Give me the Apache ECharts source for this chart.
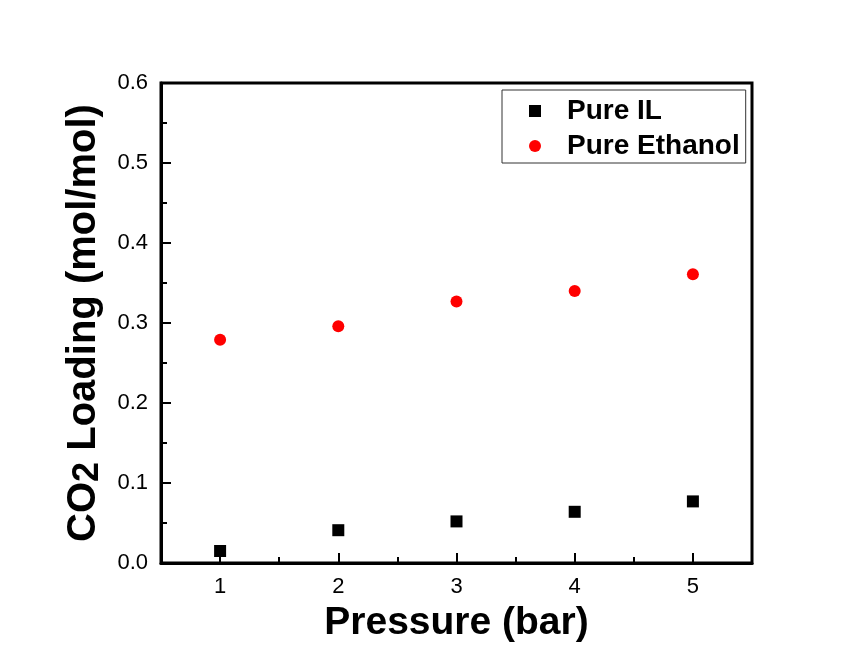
<!DOCTYPE html>
<html>
<head>
<meta charset="utf-8">
<script src="https://cdn.jsdelivr.net/npm/echarts@6/dist/echarts.min.js"></script>
<style>
  html, body { margin: 0; padding: 0; background: #fff; }
  #main { width: 856px; height: 671px; }
</style>
</head>
<body>
<div id="main"></div>
<script>
// data
var pressure = [1, 2, 3, 4, 5];
var pureIL = [0.015, 0.041, 0.052, 0.064, 0.077];
var pureEthanol = [0.279, 0.296, 0.327, 0.340, 0.361];
var xMajorTicks = [1, 2, 3, 4, 5];
var xMinorTicks = [1.5, 2.5, 3.5, 4.5];
var yMajorTicks = [0, 0.1, 0.2, 0.3, 0.4, 0.5, 0.6];
var yMinorTicks = [0.05, 0.15, 0.25, 0.35, 0.45, 0.55];

var font = 'Arial, "Liberation Sans", sans-serif';

function pairs(xs, ys) {
    var out = [];
    for (var i = 0; i < xs.length; i++) {
        out.push([xs[i], ys[i]]);
    }
    return out;
}

// axis that only draws inward ticks at given values
function tickAxis(lo, hi, pos, values, len) {
    return {
        type: 'value', min: lo, max: hi, position: pos,
        axisLine: { show: false },
        axisTick: { show: true, inside: true, length: len, lineStyle: { color: '#000', width: 2 }, customValues: values },
        axisLabel: { show: false },
        splitLine: { show: false }
    };
}

// axis whose minor ticks land on the wanted major positions
function minorTickAxis(lo, hi, pos, step, split, len) {
    return {
        type: 'value', min: lo, max: hi, interval: step, position: pos,
        axisLine: { show: false },
        axisTick: { show: false, inside: true },
        minorTick: { show: true, splitNumber: split, length: len, lineStyle: { color: '#000', width: 2 } },
        axisLabel: { show: false },
        splitLine: { show: false }
    };
}

var chart = echarts.init(document.getElementById('main'));

var option = {
    backgroundColor: '#fff',
    animation: false,
    grid: {
        left: 161, top: 83, right: 104, bottom: 108,
        show: true, borderColor: '#000', borderWidth: 3
    },
    legend: {
        orient: 'vertical',
        left: 502, top: 90,
        padding: [6, 6, 2, 27],
        itemGap: 5,
        itemWidth: 12, itemHeight: 12,
        borderColor: '#333', borderWidth: 1,
        textStyle: {
            fontFamily: font, fontWeight: 'bold', fontSize: 28,
            color: '#000', lineHeight: 30, padding: [0, 0, 0, 21]
        },
        data: ['Pure IL', 'Pure Ethanol']
    },
    xAxis: [{
        type: 'value', min: 0.5, max: 5.5,
        name: 'Pressure (bar)',
        nameLocation: 'middle', nameGap: 41,
        nameTextStyle: { fontFamily: font, fontWeight: 'bold', fontSize: 39, color: '#000' },
        axisLine: { lineStyle: { color: '#000', width: 3 } },
        axisTick: { show: false },
        axisLabel: { margin: 13, fontFamily: font, fontSize: 22, color: '#000', customValues: xMajorTicks },
        splitLine: { show: false }
    },
        tickAxis(0.5, 5.5, 'bottom', xMajorTicks, 10),
        tickAxis(0.5, 5.5, 'bottom', xMinorTicks, 6),
        minorTickAxis(0.5, 5.5, 'bottom', 1, 2, 10)
    ],
    yAxis: [{
        type: 'value', min: 0, max: 0.6, interval: 0.1,
        name: '{a|CO}{b|2}{a| Loading (mol/mol)}',
        nameLocation: 'middle', nameGap: 52, nameRotate: 90,
        nameTextStyle: {
            rich: {
                a: { fontFamily: font, fontWeight: 'bold', fontSize: 40, color: '#000' },
                b: { fontFamily: font, fontWeight: 'bold', fontSize: 36, color: '#000', padding: [10, 0, 0, 0] }
            }
        },
        axisLine: { lineStyle: { color: '#000', width: 3 } },
        axisTick: { show: false },
        axisLabel: {
            margin: 13, fontFamily: font, fontSize: 22, color: '#000',
            formatter: function (v) { return v.toFixed(1); }
        },
        splitLine: { show: false }
    },
        tickAxis(0, 0.6, 'left', yMajorTicks, 10),
        tickAxis(0, 0.6, 'left', yMinorTicks, 6),
        minorTickAxis(0, 0.6, 'left', 0.2, 2, 10),
        minorTickAxis(0, 0.6, 'left', 0.6, 3, 10)
    ],
    series: [{
        name: 'Pure IL',
        type: 'scatter',
        symbol: 'rect', symbolSize: 12,
        itemStyle: { color: '#000', opacity: 1 },
        data: pairs(pressure, pureIL)
    }, {
        name: 'Pure Ethanol',
        type: 'scatter',
        symbol: 'circle', symbolSize: 12,
        itemStyle: { color: '#ff0000', opacity: 1 },
        data: pairs(pressure, pureEthanol)
    }]
};

chart.setOption(option);
</script>
</body>
</html>
